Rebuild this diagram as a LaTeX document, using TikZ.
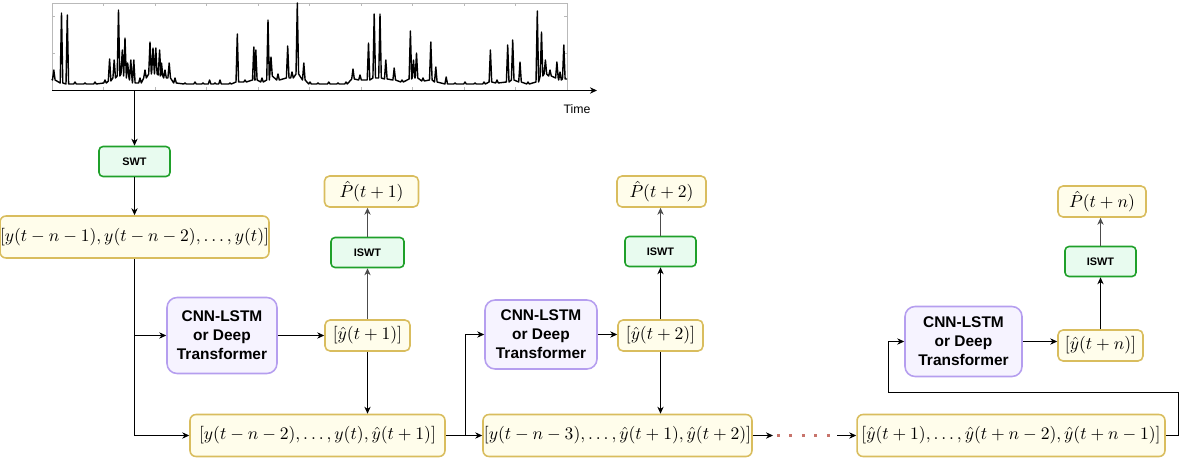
\documentclass[tikz,border=0pt]{standalone}
\usepackage{fontspec}
\setsansfont{Liberation Sans}
\usepackage{amsmath}
\usepackage{amssymb}
\usetikzlibrary{arrows.meta}
\definecolor{ybord}{HTML}{D9BD5E}
\definecolor{yfill}{HTML}{FFFDEB}
\definecolor{gbord}{HTML}{1FA02A}
\definecolor{gfill}{HTML}{E8FBEF}
\definecolor{pbord}{HTML}{B59EEF}
\definecolor{pfill}{HTML}{F6F3FF}
\definecolor{dotred}{HTML}{C8746C}

\begin{document}
\begin{tikzpicture}[x=0.02cm,y=-0.02cm,>={Stealth[length=4pt,width=3.6pt]},
  vecbox/.style={draw=ybord,fill=yfill,line width=0.9pt,rounded corners=0.12cm,inner sep=0,minimum height=0.84cm},
  outbox/.style={draw=ybord,fill=yfill,line width=0.9pt,rounded corners=0.1cm,inner sep=0,minimum height=0.62cm},
  wavebox/.style={draw=gbord,fill=gfill,line width=0.9pt,rounded corners=0.08cm,inner sep=0,minimum width=1.42cm,minimum height=0.6cm,font=\sffamily\bfseries\fontsize{6.2}{7}\selectfont},
  netbox/.style={draw=pbord,fill=pfill,line width=0.9pt,rounded corners=0.2cm,inner sep=0,align=center,font=\sffamily\bfseries\fontsize{8.8}{10.8}\selectfont},
  conn/.style={->,line width=0.6pt}]
 \useasboundingbox (0,0) rectangle (1186,459);

 % 時系列
 \draw[gray!55,line width=0.4pt] (52,3) rectangle (567,90); %枠
 \foreach \i in {1,...,9}{
  \draw[gray!55,line width=0.4pt] ({52+\i*51.5},3) -- ++(0,3);
  \draw[gray!55,line width=0.4pt] ({52+\i*51.5},90) -- ++(0,-3);
 }
 \foreach \j in {16,53}{
  \draw[gray!55,line width=0.4pt] (52,\j) -- ++(3,0);
  \draw[gray!55,line width=0.4pt] (567,\j) -- ++(-3,0);
 }
 \draw[line width=0.8pt,line join=round] (52,79)
  \foreach \x/\y/\b in {53.8/70/80, 61.5/13/83, 67.3/15/84, 75/82/84, 85/83/84, 95/82/84, 105/80/83,
   109.6/59/81, 114.2/60/78, 118.5/10/76, 122.3/50/74, 125/38/76, 127.7/63/78, 130.8/60/80, 133.8/60/83,
   140/78/83, 145/70/78, 150/42/74, 153/48/72, 155.8/48/74, 159.6/50/75, 161.5/63/76, 165/70/78, 169.2/63/78,
   175/78/83, 185/83/84, 195/82/84, 203/83/84, 209.6/80/84, 215/83/84, 220/80/84, 230/83/84, 237.3/34/82,
   245/80/82, 253.8/47/80, 255.8/50/80, 262/78/82, 268/20/80, 271/57/76, 278/74/80, 287.7/46/78, 292/72/78,
   297.3/3/74, 303.8/63/80, 310/82/84, 318/83/84, 328.8/82/84, 338/83/84, 346/82/84, 353/69/79, 360/75/80,
   368.5/43/80, 374.2/14/78, 380/14/78, 385.8/60/79, 394.2/68/80, 402/80/82, 410.4/31/79, 413.5/60/78,
   416.5/53/78, 423/78/81, 430.8/42/80, 435.8/67/82, 446.2/77/84, 455/83/84, 465/82/84, 475/83/84, 484/82/84,
   490.4/50/82, 497/80/83, 507.7/45/82, 512.7/40/80, 520/62/82, 528/82/84, 537.3/11/82, 541.5/32/76,
   545.4/60/74, 550/70/76, 556.9/62/78, 560/72/80, 563.8/45/79}
  { -- (\x-1.3,\b) -- (\x,\y) -- (\x+1.3,\b) } -- (567,79);
 \coordinate (AxS) at (52,90.5); %軸始点
 \coordinate (AxL) at (597,90.5); %軸終点
 \draw[->,line width=0.8pt] (AxS)--(AxL);
 \node[font=\sffamily\fontsize{7}{8}\selectfont] (time) at (577,109) {Time};
 \coordinate (tap) at (134.5,90.5);

 % ノード
 \node[wavebox] (swt) at (134.5,161.5) {SWT};
 \node[vecbox,minimum width=5.3cm] (inp) at (134.5,237) {$[y(t-n-1),y(t-n-2),\dots,y(t)]$};

 \node[netbox,minimum width=2.2cm,minimum height=1.52cm] (cnnA) at (222,335.5) {CNN-LSTM\\or Deep\\Transformer};
 \node[outbox,minimum width=1.7cm] (yhA) at (367.5,335.5) {$[\hat{y}(t+1)]$};
 \node[wavebox,minimum width=1.46cm] (iswtA) at (367.5,252.5) {ISWT};
 \node[outbox,minimum width=1.88cm] (pA) at (371.5,191.5) {$\hat{P}(t+1)$};
 \node[vecbox,minimum width=5.1cm] (botA) at (317.5,435.5) {$[y(t-n-2),\dots,y(t),\hat{y}(t+1)]$};

 \node[netbox,minimum width=2.24cm,minimum height=1.38cm] (cnnB) at (541,334.5) {CNN-LSTM\\or Deep\\Transformer};
 \node[outbox,minimum width=1.7cm] (yhB) at (660.5,335.5) {$[\hat{y}(t+2)]$};
 \node[wavebox] (iswtB) at (660.5,251.5) {ISWT};
 \node[outbox,minimum width=1.78cm] (pB) at (661.5,191.5) {$\hat{P}(t+2)$};
 \node[vecbox,minimum width=5.38cm] (botB) at (617.5,435.5) {$[y(t-n-3),\dots,\hat{y}(t+1),\hat{y}(t+2)]$};

 \node[vecbox,minimum width=6.16cm] (botC) at (1011,435.5) {$[\hat{y}(t+1),\dots,\hat{y}(t+n-2),\hat{y}(t+n-1)]$};
 \node[netbox,minimum width=2.34cm,minimum height=1.4cm] (cnnC) at (963.5,341.5) {CNN-LSTM\\or Deep\\Transformer};
 \node[outbox,minimum width=1.7cm] (yhC) at (1100.5,345.5) {$[\hat{y}(t+n)]$};
 \node[wavebox] (iswtC) at (1100.5,261.5) {ISWT};
 \node[outbox,minimum width=1.76cm] (pC) at (1102,201.5) {$\hat{P}(t+n)$};

 % 矢印
 \draw[conn] (tap) -- (swt.north);
 \draw[conn] (swt.south) -- (inp.north);
 \draw[conn] (inp.south) |- (cnnA.west);
 \draw[conn] (inp.south) |- (botA.west);
 \draw[conn] (cnnA.east) -- (yhA.west);
 \draw[conn,draw=black!70] (yhA.north) -- (iswtA.south);
 \draw[conn,draw=black!70] (iswtA.north) -- (iswtA.north |- pA.south);
 \draw[conn] (yhA.south) -- (yhA.south |- botA.north);

 \coordinate (jB) at (465.5,435.5); %分岐
 \draw[conn] (botA.east) -- (botB.west);
 \draw[conn] (jB) |- (cnnB.west);
 \draw[conn] (cnnB.east) -- (cnnB.east -| yhB.west);
 \draw[conn] (yhB.north) -- (iswtB.south);
 \draw[conn,draw=black!70] (iswtB.north) -- (iswtB.north |- pB.south);
 \draw[conn] (yhB.south) -- (yhB.south |- botB.north);

 \coordinate (d1) at (773,435.5); %点線
 \coordinate (d2) at (837,435.5);
 \draw[conn] (botB.east) -- (d1);
 \draw[dotred,line width=1.6pt,dash pattern=on 1.6pt off 5.5pt] (777,435.5) -- (830,435.5);
 \draw[conn,line width=0.7pt] (d2) -- (botC.west);

 \coordinate (rC) at (1178.5,392.5); %戻り
 \draw[conn] (botC.east) -| (rC) -- (888.5,392.5) |- (cnnC.west);
 \draw[conn] (cnnC.east) -- (cnnC.east -| yhC.west);
 \draw[conn] (yhC.north) -- (iswtC.south);
 \draw[conn,draw=black!70] (iswtC.north) -- (iswtC.north |- pC.south);
\end{tikzpicture}
\end{document}
